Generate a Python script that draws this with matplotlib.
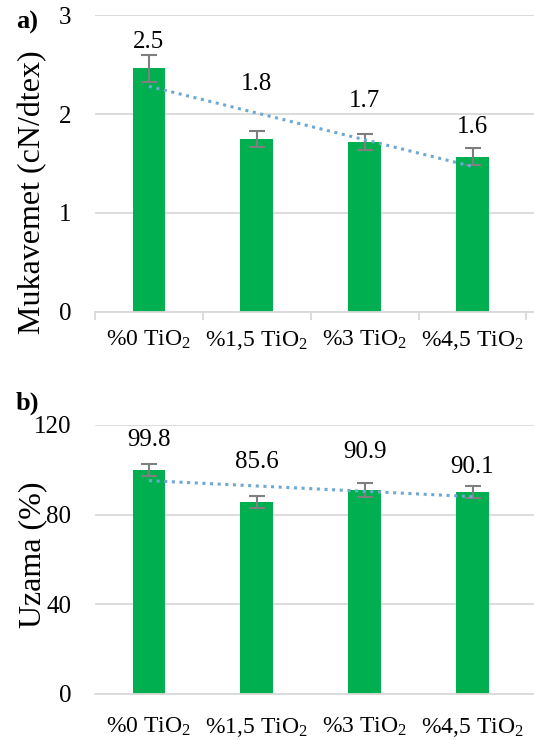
import numpy as np
import matplotlib
matplotlib.use("Agg")
from matplotlib import pyplot as plt

plt.rcParams['font.family'] = ['Liberation Serif', 'DejaVu Serif']
plt.rcParams['mathtext.fontset'] = 'custom'
plt.rcParams['mathtext.rm'] = 'Liberation Serif'
plt.rcParams['mathtext.it'] = 'Liberation Serif:italic'

categories = ["%0 TiO$_2$", "%1,5 TiO$_2$", "%3 TiO$_2$", "%4,5 TiO$_2$"]

strength = [2.46, 1.75, 1.72, 1.57]
strength_err = [0.14, 0.08, 0.08, 0.09]
strength_labels = ["2.5", "1.8", "1.7", "1.6"]
strength_label_y = [2.73, 2.30, 2.13, 1.87]

elong = [99.8, 85.6, 90.9, 90.1]
elong_err = [2.7, 2.5, 3.2, 2.7]
elong_labels = ["99.8", "85.6", "90.9", "90.1"]
elong_label_y = [113.3, 103.5, 108.0, 101.2]

GREEN = "#00b050"
GRID = "#d9d9d9"


def panel(ax, vals, errs, labels, label_y, ylim, yticks, ylabel,
          xpad, separators, label_pos):
    x = np.arange(len(vals))
    ax.bar(x, vals, width=0.305, color=GREEN, zorder=2)
    ax.errorbar(x, vals, yerr=errs, fmt="none", ecolor="#7f7f7f",
                elinewidth=1.5, capsize=5.5, capthick=1.5, zorder=3)
    # linear trendline
    k, b = np.polyfit(x, vals, 1)
    ax.plot(x, k * x + b, linestyle=(0, (1, 1.5)), color="#6fa8d0",
            lw=2.2, zorder=4)
    for xi, t, ly in zip(x, labels, label_y):
        ax.text(xi, ly, t, ha="center", va="center", fontsize=18)

    ax.set_xlim(-0.5, 3.57)
    ax.set_ylim(*ylim)
    ax.set_yticks(yticks)
    ax.yaxis.grid(True, color=GRID, lw=1.3, zorder=0)
    ax.set_axisbelow(True)
    for s in ["top", "right", "left"]:
        ax.spines[s].set_visible(False)
    ax.spines["bottom"].set_color(GRID)
    ax.spines["bottom"].set_linewidth(1.3)
    ax.tick_params(axis="y", length=0, pad=17, labelsize=18)
    ax.set_xticks(x)
    ax.set_xticklabels(categories, fontsize=17)
    ax.tick_params(axis="x", which="major", length=0, pad=xpad)
    if separators:
        ax.set_xticks(np.arange(-0.5, 4.0, 1.0), minor=True)
        ax.tick_params(axis="x", which="minor", length=6, color=GRID,
                       width=1.3)
    ax.set_ylabel(ylabel, fontsize=23)
    ax.yaxis.set_label_coords(*label_pos)
    return ax


fig = plt.figure(figsize=(5.34, 7.4), dpi=100)
ax1 = fig.add_axes([0.178, 0.5784, 0.822, 0.4013])
ax2 = fig.add_axes([0.178, 0.0622, 0.822, 0.3635])

panel(ax1, strength, strength_err, strength_labels, strength_label_y,
      (0, 3), [0, 1, 2, 3], "Mukavemet (cN/dtex)", 12, True,
      (-0.108, 0.404))
panel(ax2, elong, elong_err, elong_labels, elong_label_y,
      (0, 120), [0, 40, 80, 120], "Uzama (%)", 16, False,
      (-0.108, 0.517))

fig.text(0.03, 0.970, "a)", fontsize=19, fontweight="bold", va="center")
fig.text(0.03, 0.455, "b)", fontsize=19, fontweight="bold", va="center")

fig.savefig("out.png", dpi=100)
